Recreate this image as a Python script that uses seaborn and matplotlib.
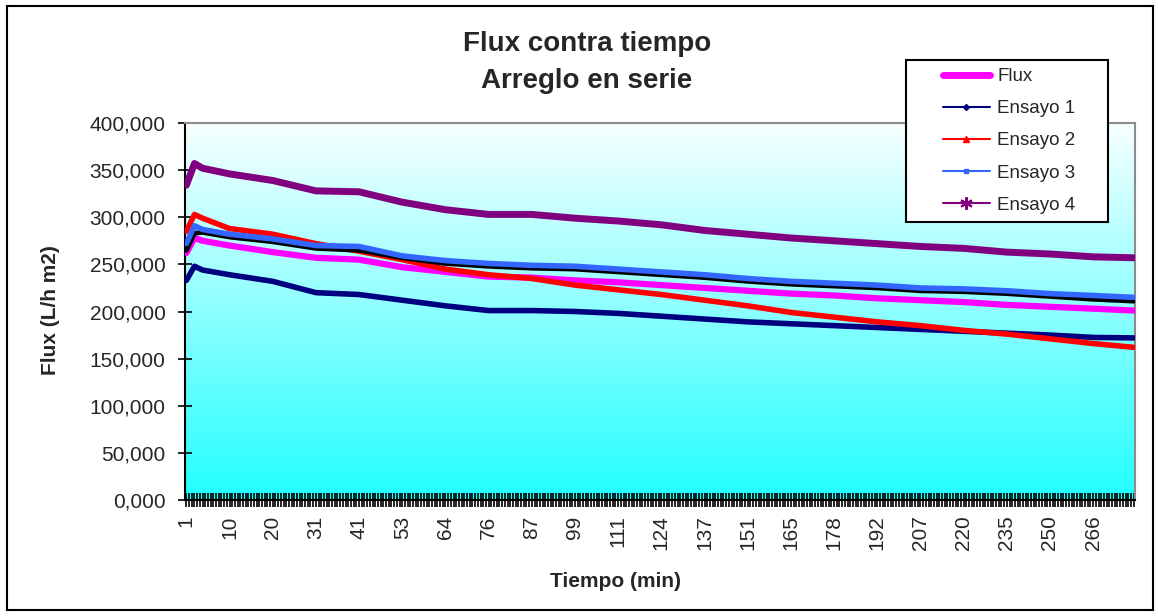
import numpy as np
import pandas as pd
import seaborn as sns
import matplotlib.pyplot as plt
from matplotlib.lines import Line2D
from matplotlib.patches import Rectangle
from matplotlib.ticker import FuncFormatter

# categorias del eje (una por lectura), etiqueta cada 16
n_cat = 352
paso = 16
etiquetas = [1, 10, 20, 31, 41, 53, 64, 76, 87, 99, 111, 124, 137, 151,
             165, 178, 192, 207, 220, 235, 250, 266]

# lecturas tomadas del grafico (indice de categoria)
idx = [0, 3, 6] + [paso * j for j in range(1, 22)] + [351]

flux = [262, 278, 275, 270, 263, 257, 255, 247, 242, 237, 236, 233, 231,
        228, 225, 222, 219, 217, 214, 212, 210, 207, 205, 203, 201]
ensayo1 = [233, 248, 244, 239, 232, 220, 218, 212, 206, 201, 201, 200, 198,
           195, 192, 189, 187, 185, 183, 181, 179, 177, 175, 172.5, 172]
ensayo2 = [285, 303, 299, 288, 282, 272, 264, 255, 245, 239, 235, 228, 223,
           218, 212, 206, 199, 194, 189, 185, 180, 176, 171, 166, 162]
ensayo3 = [272, 291, 287, 282, 277, 270, 269, 259, 254, 251, 249, 248, 245,
           242, 239, 235, 232, 230, 228, 225, 224, 222, 219, 217, 215]
promedio = [265, 283, 284, 279, 274, 267, 265, 257, 251, 248, 246, 245, 242,
            239, 236, 232, 229, 227, 225, 222, 221, 219, 216, 213, 211]
ensayo4 = [334, 357, 352, 346, 339, 328, 327, 316, 308, 303, 303, 299, 296,
           292, 286, 282, 278, 275, 272, 269, 267, 263, 261, 258, 257]

df = pd.DataFrame({'idx': idx, 'Flux': flux, 'Ensayo 1': ensayo1,
                   'Ensayo 2': ensayo2, 'promedio': promedio,
                   'Ensayo 3': ensayo3, 'Ensayo 4': ensayo4})

colores = {'Flux': '#FF00FF', 'Ensayo 1': '#000080', 'Ensayo 2': '#FF0000',
           'promedio': '#000000', 'Ensayo 3': '#3366FF', 'Ensayo 4': '#800080'}
grosor = {'Flux': 4.5, 'Ensayo 1': 4, 'Ensayo 2': 4, 'promedio': 3.5,
          'Ensayo 3': 4, 'Ensayo 4': 5}

sns.set_style('white')
plt.rcParams['font.family'] = ['Liberation Sans', 'DejaVu Sans']

fig = plt.figure(figsize=(11.58, 6.16), dpi=100)
ax = fig.add_axes([185 / 1158, 1 - 500 / 616, 950 / 1158, 377 / 616])

# fondo degradado blanco (arriba) -> cian (abajo)
grad = np.linspace(0, 1, 256)
rgb = np.ones((256, 1, 3))
rgb[:, 0, 0] = 0.97 - 0.84 * grad
ax.imshow(rgb, extent=[0, 1, 0, 1], origin='upper', transform=ax.transAxes,
          aspect='auto', zorder=0)

for col in ['Flux', 'Ensayo 1', 'Ensayo 2', 'promedio', 'Ensayo 3', 'Ensayo 4']:
    sns.lineplot(data=df, x='idx', y=col, ax=ax, color=colores[col],
                 lw=grosor[col], zorder=3)

ax.set_xlim(-0.5, n_cat - 0.5)
ax.set_ylim(0, 400)
ax.set_yticks(np.arange(0, 401, 50))
ax.yaxis.set_major_formatter(FuncFormatter(lambda v, p: f'{v:.3f}'.replace('.', ',')))
ax.set_xticks([paso * j for j in range(len(etiquetas))])
ax.set_xticklabels([str(e) for e in etiquetas], rotation=90)
ax.set_xticks(range(n_cat), minor=True)
ax.tick_params(axis='both', which='both', direction='inout', length=10,
               width=1.2, color='black', labelsize=15, bottom=True, left=True)
ax.tick_params(axis='x', which='minor', length=10, width=1.2, bottom=True)
ax.tick_params(axis='y', pad=9)
ax.tick_params(axis='x', pad=6)

for s in ['left', 'bottom']:
    ax.spines[s].set_color('black')
    ax.spines[s].set_linewidth(1.5)
for s in ['top', 'right']:
    ax.spines[s].set_color('#8c8c8c')
    ax.spines[s].set_linewidth(1.5)

ax.set_xlabel('Tiempo (min)', fontsize=15, fontweight='bold')
ax.set_ylabel('Flux (L/h m2)', fontsize=15, fontweight='bold')
ax.xaxis.set_label_coords((615 - 185) / 950, (500 - 572) / 377)
ax.yaxis.set_label_coords((60 - 185) / 950, (500 - 310) / 377)

fig.text(587 / 1158, 1 - 44 / 616, 'Flux contra tiempo', ha='center',
         va='center', fontsize=20, fontweight='bold')
fig.text(587 / 1158, 1 - 81 / 616, 'Arreglo en serie', ha='center',
         va='center', fontsize=20, fontweight='bold')

# caja de la leyenda
fig.patches.append(Rectangle((906 / 1158, 1 - 222 / 616), 202 / 1158,
                             162 / 616, transform=fig.transFigure,
                             facecolor='white', edgecolor='black', lw=1.5,
                             zorder=5))
handles = [
    Line2D([], [], color='#FF00FF', lw=5),
    Line2D([], [], color='#000080', lw=1.5, marker='D', ms=3),
    Line2D([], [], color='#FF0000', lw=1.5, marker='^', ms=4),
    Line2D([], [], color='#3366FF', lw=1.5, marker='s', ms=3.5),
    Line2D([], [], color='#800080', lw=1.5, marker=(6, 2, 0), ms=9, mew=1.5),
]
leg = fig.legend(handles, ['Flux', 'Ensayo 1', 'Ensayo 2', 'Ensayo 3', 'Ensayo 4'],
                 loc='upper left', bbox_to_anchor=(943 / 1158, 1 - 68 / 616),
                 bbox_transform=fig.transFigure, frameon=False, fontsize=13.5,
                 borderpad=0, borderaxespad=0, handlelength=2.5,
                 handletextpad=0.4, labelspacing=0.8)
leg.set_zorder(6)

# marco del grafico
fig.patches.append(Rectangle((7 / 1158, 6 / 616), 1146 / 1158, 604 / 616,
                             transform=fig.transFigure, fill=False,
                             edgecolor='black', lw=1.5, zorder=1))

fig.savefig('out.png', dpi=100)
